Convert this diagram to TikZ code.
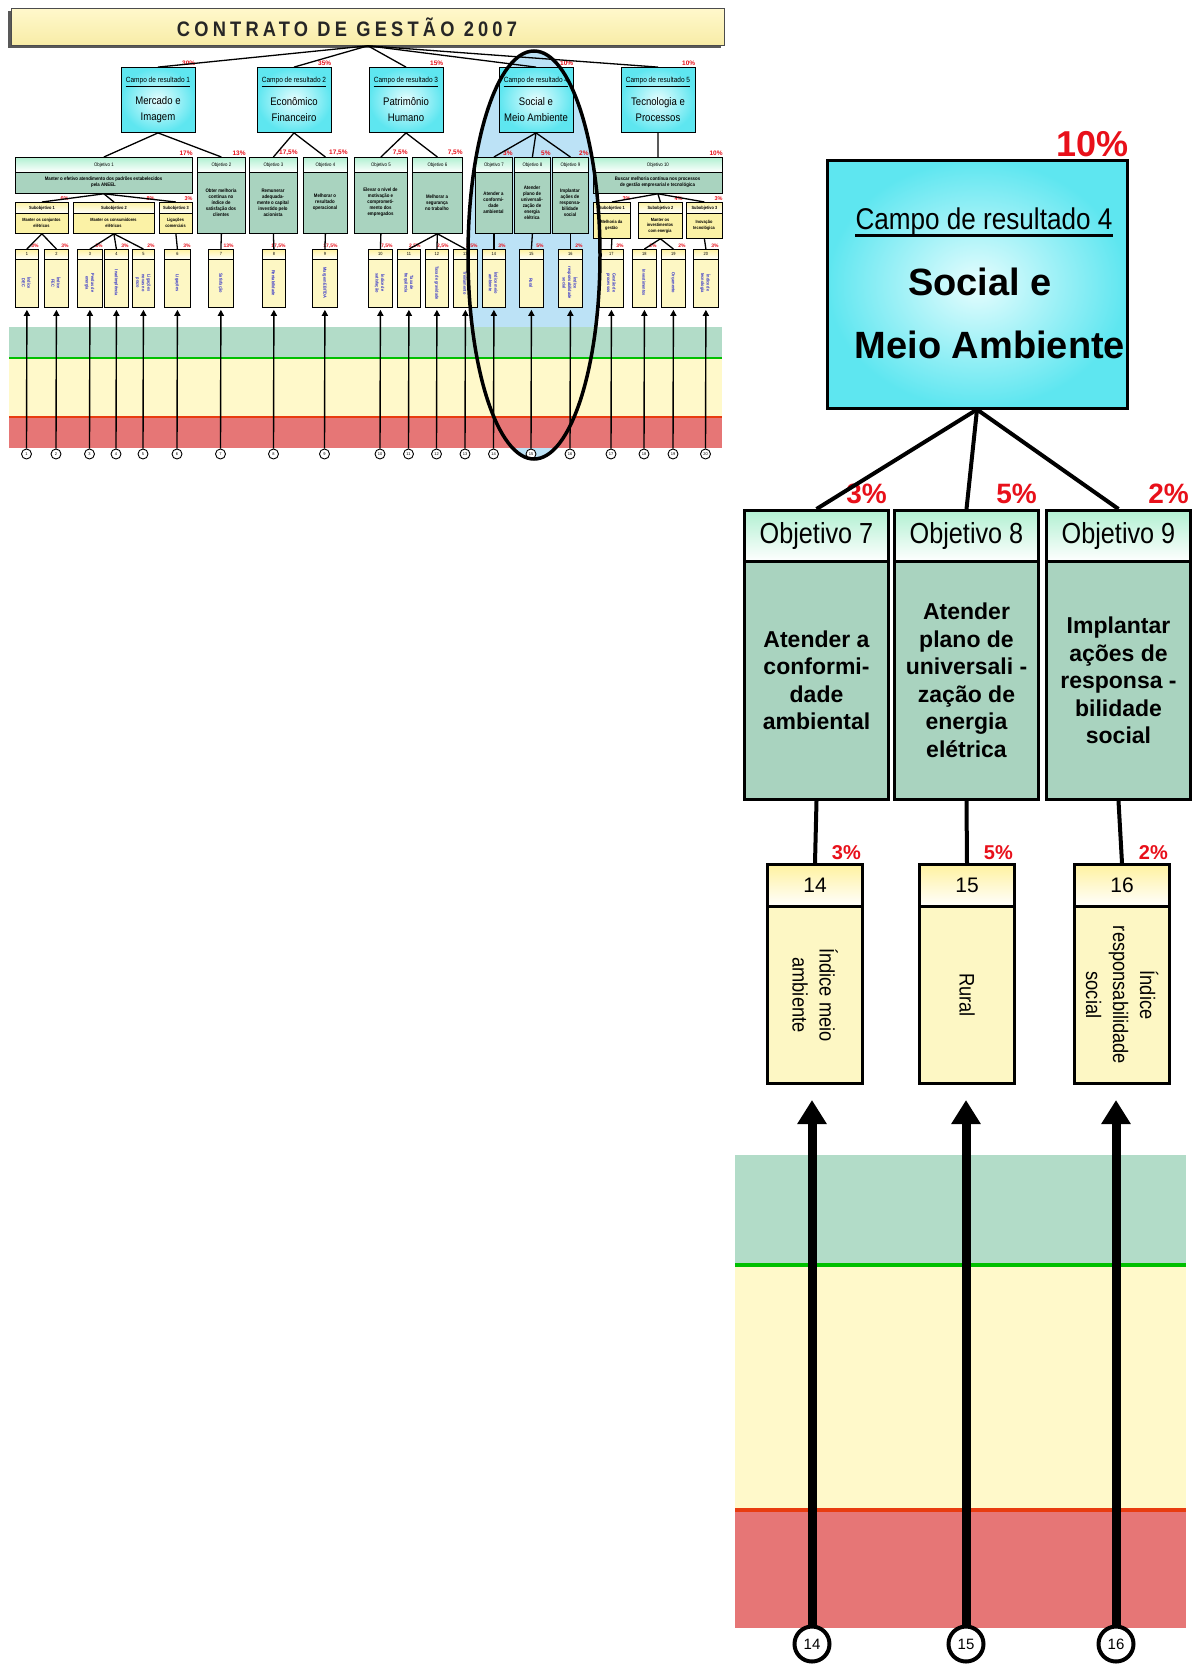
\documentclass[tikz,border=0pt]{standalone}
\usepackage{fontspec}
\setmainfont{Liberation Sans}
\newfontfamily\narrow[FakeStretch=0.87]{Liberation Sans}
\usetikzlibrary{arrows.meta,calc}

\definecolor{cyanbox}{HTML}{5EE6F0}
\definecolor{cyanlight}{HTML}{E6FDFE}
\definecolor{objfill}{HTML}{A9D3BF}
\definecolor{objtop}{HTML}{B2F0D2}
\definecolor{indfill}{HTML}{FDF7C4}
\definecolor{indtop}{HTML}{FFF2A0}
\definecolor{subfill}{HTML}{FBF2A6}
\definecolor{pctred}{HTML}{E8101A}
\definecolor{bandgreen}{HTML}{B2DCC8}
\definecolor{bandyellow}{HTML}{FFF9CA}
\definecolor{bandred}{HTML}{E67676}
\definecolor{linegreen}{HTML}{00C000}
\definecolor{linered}{HTML}{E83C10}
\definecolor{ovalblue}{HTML}{BCE2F6}
\definecolor{indblue}{HTML}{3535C8}
\definecolor{titletop}{HTML}{FFF8CC}
\definecolor{titlebot}{HTML}{F8ECA6}

\tikzset{
  % small overview chart
  tline/.style={line width=1.3pt},
  tbox/.style={draw=black, line width=0.8pt, inner sep=0pt},
  tcampo/.style={tbox, inner color=cyanlight, outer color=cyanbox, minimum width=74pt, minimum height=65pt},
  tobj/.style={tbox, fill=objfill, anchor=north west},
  thead/.style={tbox, top color=objtop, bottom color=white, anchor=north west, font=\narrow\fontsize{5}{6}\selectfont},
  tobjtext/.style={inner sep=0pt, align=center, font=\narrow\bfseries\fontsize{5}{6}\selectfont},
  tsub/.style={tbox, fill=subfill, anchor=north west},
  tsubhead/.style={tbox, top color=subfill, bottom color=white, anchor=north west, font=\narrow\bfseries\fontsize{4.5}{5}\selectfont},
  tind/.style={tbox, fill=indfill, anchor=north west, minimum height=58pt},
  tindhead/.style={tbox, top color=indtop, bottom color=white, anchor=north west, minimum height=10pt, font=\narrow\fontsize{4.5}{5}\selectfont},
  tindtext/.style={inner sep=0pt, align=center, rotate=-90, text=indblue, font=\narrow\bfseries\fontsize{4.5}{5.5}\selectfont},
  tpct/.style={inner sep=0pt, text=pctred, font=\bfseries\fontsize{6.5}{7}\selectfont},
  tcirc/.style={circle, draw=black, line width=0.9pt, fill=white, minimum size=10pt, inner sep=0pt, font=\fontsize{4}{4}\selectfont},
  tarrow/.style={line width=1.4pt, -{Triangle[width=6pt,length=6pt]}},
  % enlarged detail
  detline/.style={line width=4pt},
  dcampo/.style={draw=black, line width=3pt, inner color=cyanlight, outer color=cyanbox},
  dobjhead/.style={draw=black, line width=3pt, top color=objtop, bottom color=white, anchor=north west,
    minimum width=144pt, minimum height=51pt, font=\narrow\fontsize{29}{32}\selectfont},
  dobjbody/.style={draw=black, line width=3pt, fill=objfill, anchor=north west, align=center,
    minimum width=144pt, minimum height=238pt, font=\bfseries\fontsize{23}{27.5}\selectfont},
  dindhead/.style={draw=black, line width=3pt, top color=indtop, bottom color=white, anchor=north west,
    minimum width=95pt, minimum height=42pt, font=\fontsize{21}{24}\selectfont},
  dindbody/.style={draw=black, line width=3pt, fill=indfill, anchor=north west,
    minimum width=95pt, minimum height=177pt},
  dindtext/.style={inner sep=0pt, align=center, rotate=-90, font=\narrow\fontsize{21}{27}\selectfont},
  dpct/.style={inner sep=0pt, text=pctred, font=\bfseries\fontsize{28}{30}\selectfont},
  dipct/.style={inner sep=0pt, text=pctred, font=\bfseries\fontsize{20}{22}\selectfont},
  dcirc/.style={circle, draw=black, line width=4pt, fill=white, minimum size=35pt, inner sep=0pt, font=\fontsize{15}{16}\selectfont},
  bigarrow/.style={line width=9pt, -{Triangle[width=28pt,length=24pt]}},
}

\begin{document}
\begin{tikzpicture}[x=1pt,y=-1pt]
\useasboundingbox (0,0) rectangle (1197,1666);
\fill[white] (0,0) rectangle (1197,1666);

% ================= overview chart =================
% highlight oval (fill)
\fill[ovalblue] (534,255) ellipse [x radius=66pt, y radius=204pt];

% performance bands
\fill[bandgreen] (9,327) rectangle (722,358);
\fill[bandyellow] (9,358) rectangle (722,417);
\fill[bandred] (9,417) rectangle (722,448);
\draw[linegreen, line width=1.3pt] (9,358) -- (722,358);
\draw[linered, line width=1.5pt] (9,417) -- (722,417);

% title
\fill[black!65] (8,11) rectangle (721,48);
\node[draw=black!70, line width=0.8pt, top color=titletop, bottom color=titlebot, minimum width=713pt, minimum height=37pt, anchor=north west, inner sep=0pt] (title) at (11,8) {};
\node[inner sep=0pt, font=\narrow\bfseries\fontsize{21}{24}\selectfont\addfontfeature{LetterSpace=20}, text=black!85] (titletxt) at (347,27) {CONTRATO DE GESTÃO 2007};

% result fields
\foreach \n/\cx/\nm/\pc in {1/158/{Mercado e\\Imagem}/30\%, 2/294/{Econômico\\Financeiro}/35\%,
    3/406/{Patrimônio\\Humano}/15\%, 4/536/{Social e\\Meio Ambiente}/10\%, 5/658/{Tecnologia e\\Processos}/10\%}{
  \node[tcampo] (tc\n) at (\cx,100) {};
  \node[inner sep=0pt, font=\narrow\fontsize{7.5}{8}\selectfont] (tcl\n) at (\cx,81) {Campo de resultado \n};
  \draw[line width=1.2pt] ([yshift=-1.5pt]tcl\n.south west) -- ([yshift=-1.5pt]tcl\n.south east);
  \node[inner sep=0pt, align=center, font=\narrow\fontsize{11}{16}\selectfont] (tcn\n) at (\cx,110) {\nm};
  \node[tpct, anchor=south east] (tcp\n) at ([yshift=1pt]tc\n.north east) {\pc};
}

% objectives
\foreach \n/\xl/\xr/\yb/\txt/\pc in {
    1/15/192/193/{Manter o efetivo atendimento dos padrões estabelecidos\\pela ANEEL}/17\%,
    2/197/245/233/{Obter melhoria\\contínua no\\índice de\\satisfação dos\\clientes}/13\%,
    3/249/297/233/{Remunerar\\adequada-\\mente o capital\\investido pelo\\acionista}/{17,5\%},
    4/303/347/233/{Melhorar o\\resultado\\operacional}/{17,5\%},
    5/354/407/233/{Elevar o nível de\\motivação e\\comprometi-\\mento dos\\empregados}/{7,5\%},
    6/412/462/233/{Melhorar a\\segurança\\no trabalho}/{7,5\%},
    7/475/512/233/{Atender a\\conformi-\\dade\\ambiental}/3\%,
    8/514/550/233/{Atender\\plano de\\universali-\\zação de\\energia\\elétrica}/5\%,
    9/552/588/233/{Implantar\\ações de\\responsa-\\bilidade\\social}/2\%,
    10/593/722/193/{Buscar melhoria contínua nos processos\\de gestão empresarial e tecnológica}/10\%}{
  \pgfmathsetmacro\w{\xr-\xl}
  \pgfmathsetmacro\h{\yb-157}
  \pgfmathsetmacro\cx{(\xl+\xr)/2}
  \pgfmathsetmacro\cy{(172+\yb)/2}
  \node[tobj, minimum width=\w pt, minimum height=\h pt] (tob\n) at (\xl,157) {};
  \node[thead, minimum width=\w pt, minimum height=15pt] (toh\n) at (\xl,157) {Objetivo \n};
  \node[tobjtext] (tot\n) at (\cx,\cy) {\txt};
  \node[tpct, anchor=south east] (top\n) at ([yshift=1pt]toh\n.north east) {\pc};
}

% sub-objectives
\foreach \id/\k/\xl/\xr/\yb/\txt/\pc in {
    a1/1/15/68/233/{Manter os conjuntos\\elétricos}/6\%,
    a2/2/73/154/233/{Manter os consumidores\\elétricos}/8\%,
    a3/3/159/192/233/{Ligações\\comerciais}/3\%,
    b1/1/593/630/238/{Melhoria da\\gestão}/3\%,
    b2/2/638/682/238/{Manter os\\investimentos\\com energia}/4\%,
    b3/3/686/722/238/{Inovação\\tecnológica}/3\%}{
  \pgfmathsetmacro\w{\xr-\xl}
  \pgfmathsetmacro\h{\yb-202}
  \pgfmathsetmacro\cx{(\xl+\xr)/2}
  \pgfmathsetmacro\cy{(213+\yb)/2}
  \node[tsub, minimum width=\w pt, minimum height=\h pt] (ts\id) at (\xl,202) {};
  \node[tsubhead, minimum width=\w pt, minimum height=11pt] (tsh\id) at (\xl,202) {Subobjetivo \k};
  \node[tobjtext, font=\narrow\bfseries\fontsize{4.5}{5.5}\selectfont] (tst\id) at (\cx,\cy) {\txt};
  \node[tpct, font=\bfseries\fontsize{5.5}{6}\selectfont, anchor=south east] (tsp\id) at ([yshift=1pt]tsh\id.north east) {\pc};
}

% indicators, their circles and arrows
\foreach \n/\xl/\xr/\lab/\pc in {
    1/15/38/{Índice\\DEC}/3\%, 2/44/68/{Índice\\FEC}/3\%, 3/77/102/{Perdas de\\energia}/3\%,
    4/104/128/{Inadimplência}/3\%, 5/132/154/{Ligações\\novas no\\prazo}/2\%, 6/164/190/{Ligações}/3\%,
    7/208/233/{Satisfação}/13\%, 8/262/285/{Rentabilidade}/{17,5\%}, 9/312/337/{Margem EBITDA}/{17,5\%},
    10/368/392/{Índice de\\satisfação}/{7,5\%}, 11/397/420/{Taxa de\\frequência}/{2,5\%},
    12/425/448/{Taxa de gravidade}/{2,5\%}, 13/453/477/{Treinamento}/{2,5\%},
    14/482/505/{Índice meio\\ambiente}/3\%, 15/519/543/{Rural}/5\%,
    16/558/582/{Índice\\responsabilidade\\social}/2\%, 17/599/623/{Gestão de\\processos}/3\%,
    18/632/656/{Investimentos}/2\%, 19/661/685/{Orçamento}/2\%, 20/693/718/{Índice de\\tecnologia}/3\%}{
  \pgfmathsetmacro\w{\xr-\xl}
  \pgfmathsetmacro\cx{(\xl+\xr)/2}
  \node[tind, minimum width=\w pt] (ti\n) at (\xl,249) {};
  \node[tindhead, minimum width=\w pt] (tih\n) at (\xl,249) {\n};
  \node[tindtext] (tit\n) at (\cx,283) {\lab};
  \node[tpct, font=\bfseries\fontsize{5}{6}\selectfont, anchor=south east] (tip\n) at ([yshift=1pt]tih\n.north east) {\pc};
  \node[tcirc] (tk\n) at (\cx,454) {\n};
  \draw[tarrow] (tk\n.north) -- ([yshift=-2pt]ti\n.south);
}

% tree connectors
\foreach \b in {tc1,tc2,tc3,tc4,tc5}
  \draw[tline] (title.south) -- (\b.north);
\foreach \a/\b in {tc1/tob1, tc1/tob2, tc2/tob3, tc2/tob4, tc3/tob5, tc3/tob6,
    tc4/tob7, tc4/tob8, tc4/tob9, tc5/tob10,
    tob1/tsa1, tob1/tsa2, tob1/tsa3, tob10/tsb1, tob10/tsb2, tob10/tsb3,
    tsa1/ti1, tsa1/ti2, tsa2/ti3, tsa2/ti4, tsa2/ti5, tsa3/ti6,
    tob2/ti7, tob3/ti8, tob4/ti9, tob5/ti10, tob6/ti11, tob6/ti12, tob6/ti13,
    tob7/ti14, tob8/ti15, tob9/ti16, tsb1/ti17, tsb2/ti18, tsb2/ti19, tsb3/ti20}
  \draw[tline] (\a.south) -- (\b.north);

% highlight oval (outline)
\draw[line width=3.5pt] (534,255) ellipse [x radius=66pt, y radius=204pt];

% ================= enlarged field 4 =================
% performance bands
\fill[bandgreen] (735,1155) rectangle (1186,1265);
\fill[bandyellow] (735,1265) rectangle (1186,1510);
\fill[bandred] (735,1510) rectangle (1186,1628);
\draw[linegreen, line width=4pt] (735,1265) -- (1186,1265);
\draw[linered, line width=4pt] (735,1510) -- (1186,1510);

% result field
\node[dcampo, minimum width=300pt, minimum height=248pt] (cbig) at (977,284) {};
\node[inner sep=0pt, anchor=base, font=\narrow\fontsize{30}{34}\selectfont] (cbiglab) at (984,229) {Campo de resultado 4};
\draw[line width=3pt] ([yshift=-6pt]cbiglab.base west) -- ([yshift=-6pt]cbiglab.base east);
\node[inner sep=0pt, anchor=base, font=\bfseries\fontsize{38}{44}\selectfont] (cbigname1) at (980,295) {Social e};
\node[inner sep=0pt, anchor=base, font=\bfseries\fontsize{38}{44}\selectfont] (cbigname2) at (990,358) {Meio Ambiente};
\node[inner sep=0pt, text=pctred, anchor=south east, font=\bfseries\fontsize{36}{40}\selectfont] (cbigpct) at ([yshift=1pt]cbig.north east) {10\%};

% objectives, indicators, circles and arrows
\foreach \n/\xl/\txt/\pc/\ind/\ixl/\kx/\lab/\ipc in {
    7/743/{Atender a\\conformi-\\dade\\ambiental}/3\%/14/766/812/{Índice meio\\ambiente}/3\%,
    8/893/{Atender\\plano de\\universali -\\zação de\\energia\\elétrica}/5\%/15/918/966/{Rural}/5\%,
    9/1045/{Implantar\\ações de\\responsa -\\bilidade\\social}/2\%/16/1073/1116/{Índice\\responsabilidade\\social}/2\%}{
  \node[dpct, anchor=south east] (dop\n) at ([yshift=5pt]\xl+144,509) {\pc};
  \node[dobjbody] (do\n) at (\xl,560) {\txt};
  \node[dobjhead] (doh\n) at (\xl,509) {Objetivo \n};
  \node[dipct, anchor=south east] (dip\ind) at ([yshift=3pt]\ixl+95,863) {\ipc};
  \node[dindbody] (di\ind) at (\ixl,905) {};
  \node[dindhead] (dih\ind) at (\ixl,863) {\ind};
  \node[dindtext] (dit\ind) at (di\ind.center) {\lab};
  \draw[detline] (cbig.south) -- (doh\n.north);
  \draw[detline] (do\n.south) -- (dih\ind.north);
  \node[dcirc] (dk\ind) at (\kx,1644) {\ind};
  \draw[bigarrow] (dk\ind.north) -- ($(dk\ind.north |- di\ind.south)+(0,15)$);
}
\end{tikzpicture}
\end{document}
